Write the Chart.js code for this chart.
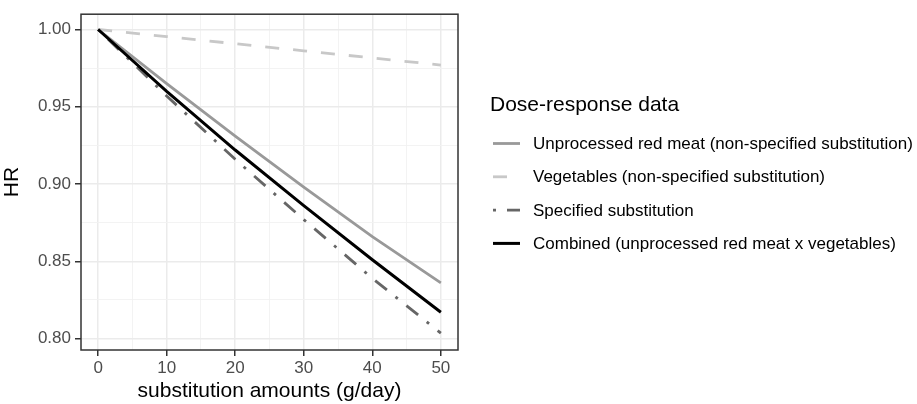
<!DOCTYPE html>
<html>
<head>
<meta charset="utf-8">
<script src="https://cdn.jsdelivr.net/npm/chart.js@4/dist/chart.umd.min.js"></script>
<style>
  body { margin: 0; background: #fff; }
  #wrap { width: 917px; height: 404px; }
</style>
</head>
<body>
<div id="wrap"><canvas id="myChart" width="917" height="404"></canvas></div>
<script>
// data (HR by substitution amount, g/day)
var amounts = [0, 10, 20, 30, 40, 50];
var redMeat = [1.000, 0.965, 0.931, 0.898, 0.866, 0.836];
var vegetables = [1.000, 0.9954, 0.9908, 0.9862, 0.9816, 0.977];
var specified = [1.000, 0.957, 0.916, 0.877, 0.839, 0.8035];
var combined = [1.000, 0.960, 0.922, 0.886, 0.851, 0.817];

var xMajor = [0, 10, 20, 30, 40, 50];
var xMinor = [5, 15, 25, 35, 45];
var yMajor = [0.80, 0.85, 0.90, 0.95, 1.00];
var yMinor = [0.825, 0.875, 0.925, 0.975];

var labels = [
    'Unprocessed red meat (non-specified substitution)',
    'Vegetables (non-specified substitution)',
    'Specified substitution',
    'Combined (unprocessed red meat x vegetables)'
];
var legendTitle = 'Dose-response data';

var FONT = "Arial, 'Liberation Sans', sans-serif";

function toPoints(ys) {
    return amounts.map(function (x, i) { return { x: x, y: ys[i] }; });
}

function isMajor(list, v) {
    return list.some(function (m) { return Math.abs(m - v) < 1e-9; });
}

// panel border + legend on the right (ggplot style)
var sidePlugin = {
    id: 'sidePlugin',
    afterDatasetsDraw: function (chart) {
        var a = chart.chartArea;
        var ctx = chart.ctx;
        ctx.save();
        ctx.strokeStyle = '#333333';
        ctx.lineWidth = 1.5;
        ctx.strokeRect(a.left, a.top, a.right - a.left, a.bottom - a.top);
        ctx.restore();
    },
    afterDraw: function (chart) {
        var ctx = chart.ctx;
        var x0 = chart.chartArea.right + 32;
        ctx.save();
        ctx.fillStyle = '#000';
        ctx.textBaseline = 'middle';
        ctx.textAlign = 'left';
        ctx.font = '21px ' + FONT;
        ctx.fillText(legendTitle, x0, 105);
        ctx.font = '17px ' + FONT;
        chart.data.datasets.forEach(function (ds, i) {
            var y = 143.5 + i * 33.3;
            ctx.strokeStyle = ds.borderColor;
            ctx.lineWidth = ds.borderWidth;
            ctx.lineCap = 'butt';
            ctx.setLineDash(ds.borderDash || []);
            ctx.beginPath();
            ctx.moveTo(x0 + 3, y);
            ctx.lineTo(x0 + 30, y);
            ctx.stroke();
            ctx.setLineDash([]);
            ctx.fillText(ds.label, x0 + 43, y + 1);
        });
        ctx.restore();
    }
};

const data = {
    datasets: [{
        label: labels[0],
        data: toPoints(redMeat),
        borderColor: '#999999',
        borderWidth: 2.8,
        order: 2
    }, {
        label: labels[1],
        data: toPoints(vegetables),
        borderColor: '#c8c8c8',
        borderWidth: 2.8,
        borderDash: [14, 14],
        order: 3
    }, {
        label: labels[2],
        data: toPoints(specified),
        borderColor: '#666666',
        borderWidth: 2.8,
        borderDash: [3, 11, 15, 11],
        order: 1
    }, {
        label: labels[3],
        data: toPoints(combined),
        borderColor: '#000000',
        borderWidth: 3,
        order: 0
    }]
};

const config = {
    type: 'line',
    data: data,
    plugins: [sidePlugin],
    options: {
        responsive: false,
        animation: false,
        events: [],
        layout: { padding: { top: 5, right: 459, left: 0, bottom: 0 } },
        elements: {
            point: { radius: 0 },
            line: { tension: 0, borderCapStyle: 'butt', fill: false }
        },
        plugins: {
            legend: { display: false },
            tooltip: { enabled: false }
        },
        scales: {
            x: {
                type: 'linear',
                min: -2.5,
                max: 52.5,
                afterBuildTicks: function (scale) {
                    scale.ticks = xMajor.concat(xMinor).sort(function (a, b) { return a - b; })
                        .map(function (v) { return { value: v }; });
                },
                afterFit: function (scale) { scale.height = 54; },
                border: { display: false },
                grid: {
                    color: function (c) { return isMajor(xMajor, c.tick.value) ? '#ebebeb' : '#f2f2f2'; },
                    lineWidth: function (c) { return isMajor(xMajor, c.tick.value) ? 1.5 : 0.9; },
                    tickColor: function (c) { return isMajor(xMajor, c.tick.value) ? '#333333' : 'rgba(0,0,0,0)'; },
                    tickLength: 6,
                    tickWidth: 1.5
                },
                ticks: {
                    autoSkip: false,
                    maxRotation: 0,
                    padding: 2,
                    color: '#4d4d4d',
                    font: { family: FONT, size: 17 },
                    callback: function (v) { return isMajor(xMajor, v) ? String(v) : ''; }
                },
                title: {
                    display: true,
                    text: 'substitution amounts (g/day)',
                    color: '#000',
                    font: { family: FONT, size: 21 },
                    padding: { top: 0, bottom: 0 }
                }
            },
            y: {
                type: 'linear',
                min: 0.7926,
                max: 1.0099,
                afterBuildTicks: function (scale) {
                    scale.ticks = yMajor.concat(yMinor).sort(function (a, b) { return a - b; })
                        .map(function (v) { return { value: v }; });
                },
                afterFit: function (scale) { scale.width = 81; },
                border: { display: false },
                grid: {
                    color: function (c) { return isMajor(yMajor, c.tick.value) ? '#ebebeb' : '#f2f2f2'; },
                    lineWidth: function (c) { return isMajor(yMajor, c.tick.value) ? 1.5 : 0.9; },
                    tickColor: function (c) { return isMajor(yMajor, c.tick.value) ? '#333333' : 'rgba(0,0,0,0)'; },
                    tickLength: 6,
                    tickWidth: 1.5
                },
                ticks: {
                    autoSkip: false,
                    padding: 4,
                    color: '#4d4d4d',
                    font: { family: FONT, size: 17 },
                    callback: function (v) { return isMajor(yMajor, v) ? v.toFixed(2) : ''; }
                },
                title: {
                    display: true,
                    text: 'HR',
                    color: '#000',
                    font: { family: FONT, size: 21 },
                    padding: { top: 0, bottom: 0 }
                }
            }
        }
    }
};

var myChart = new Chart(document.getElementById('myChart'), config);
</script>
</body>
</html>
